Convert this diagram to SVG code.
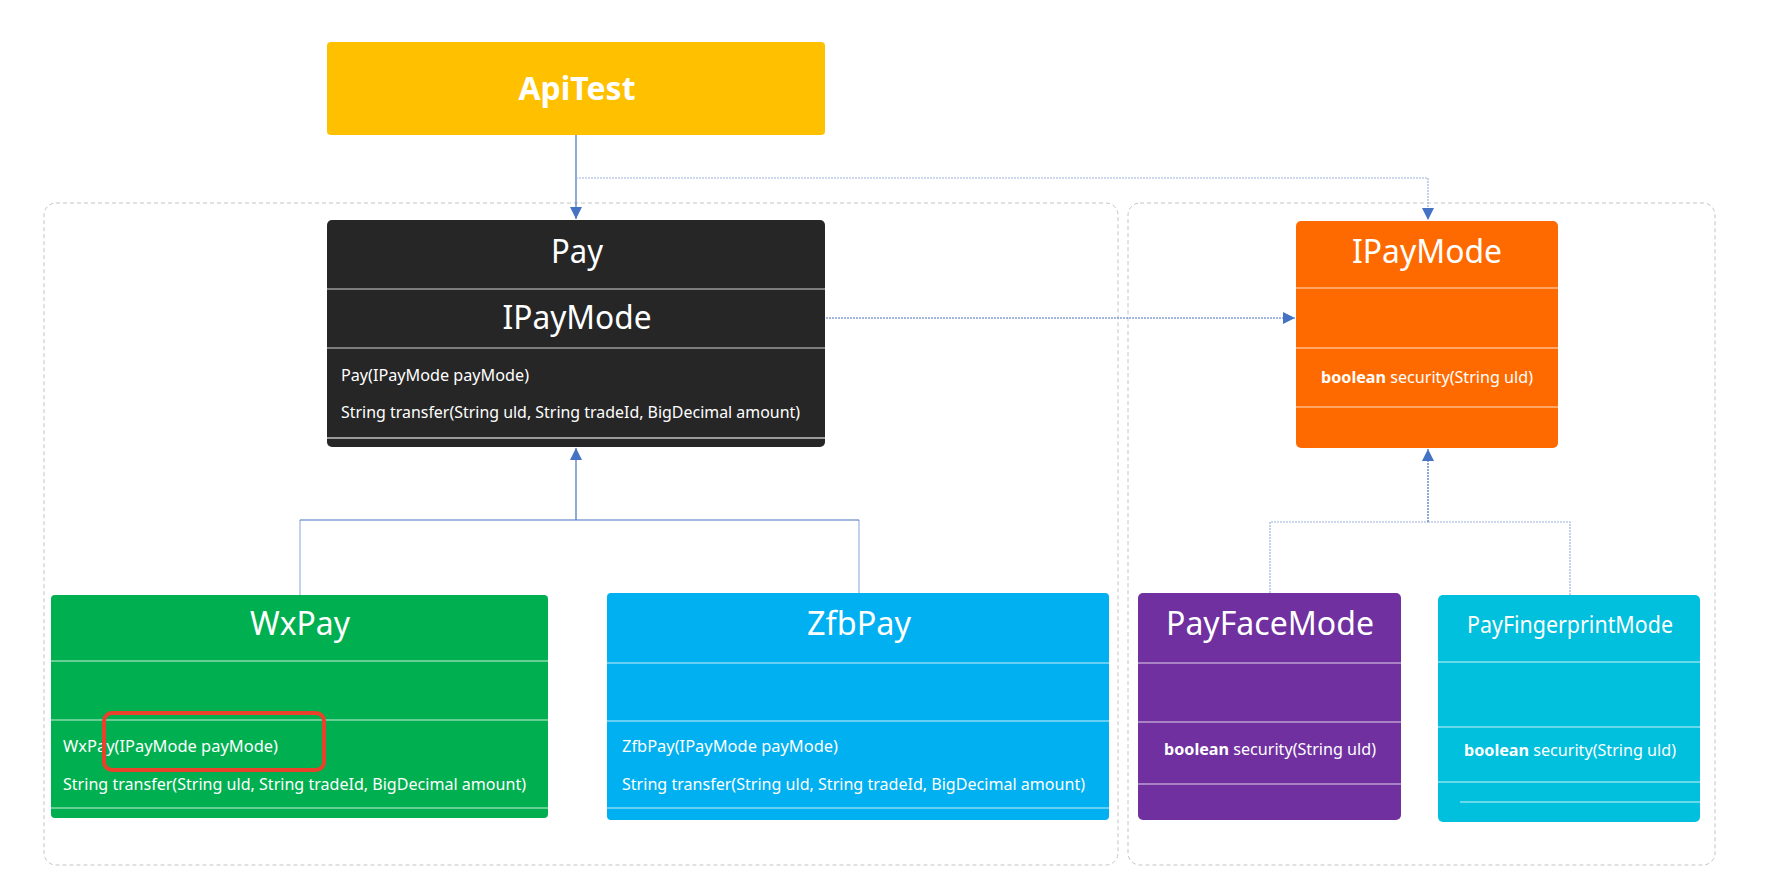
<svg xmlns="http://www.w3.org/2000/svg" width="1780" height="874" viewBox="0 0 1780 874">
<defs>
<marker id="arr" markerWidth="12" markerHeight="12" refX="10" refY="5" orient="auto" markerUnits="userSpaceOnUse" viewBox="0 0 10 10">
<path d="M0,0 L10,5 L0,10 z" fill="#4472C4"/>
</marker>
</defs>
<style>
.grp{fill:none;stroke:#c4c4c4;stroke-width:1;stroke-dasharray:4 3}
.t{font-family:"Noto Sans","Open Sans","Liberation Sans",sans-serif;fill:#fff}
.title{font-size:33px;text-anchor:middle}
.m{font-size:16px}
.mm{font-size:17px}
.sep{stroke:#fff;stroke-width:1.2;stroke-opacity:0.8}
.c{fill:none;stroke:#4472C4;stroke-width:1.2}
.cl{fill:none;stroke:#9bb2e0;stroke-width:1.2}
.dot{stroke-dasharray:2 1}
</style>
<rect width="1780" height="874" fill="#fff"/>
<rect class="grp" x="44" y="203" width="1074" height="662" rx="12"/>
<rect class="grp" x="1128" y="203" width="587" height="662" rx="12"/>

<g id="connectors">
<path class="c" d="M576,135 V219" marker-end="url(#arr)"/>
<path class="cl dot" d="M576,178 H1428 V220" marker-end="url(#arr)"/>
<path class="c dot" d="M826,318 H1295" marker-end="url(#arr)"/>
<path class="cl" d="M300,595 V520"/>
<path class="cl" d="M859,593 V520"/>
<path class="c" d="M300,520 H859"/>
<path class="c" d="M576,520 V448" marker-end="url(#arr)"/>
<path class="cl dot" d="M1270,593 V522 H1428"/>
<path class="cl dot" d="M1570,595 V522 H1428"/>
<path class="c dot" d="M1428,522 V449" marker-end="url(#arr)"/>
</g>

<g id="ApiTest">
<rect x="327" y="42" width="498" height="93" rx="4" fill="#FFC000"/>
<text class="t title" x="577" y="100" font-weight="bold" textLength="117" lengthAdjust="spacingAndGlyphs">ApiTest</text>
</g>

<g id="Pay">
<rect x="327" y="220" width="498" height="227" rx="5" fill="#262626"/>
<line class="sep" x1="327" y1="289" x2="825" y2="289"/>
<line class="sep" x1="327" y1="348" x2="825" y2="348"/>
<line x1="327" y1="438" x2="825" y2="438" stroke="#9a9a9a" stroke-width="2"/>
<text class="t title" x="577" y="263" textLength="52" lengthAdjust="spacingAndGlyphs">Pay</text>
<text class="t title" x="577" y="329" textLength="149" lengthAdjust="spacingAndGlyphs">IPayMode</text>
<text class="t mm" x="341" y="381" textLength="188" lengthAdjust="spacingAndGlyphs">Pay(IPayMode payMode)</text>
<text class="t mm" x="341" y="418" textLength="459" lengthAdjust="spacingAndGlyphs">String transfer(String uld, String tradeId, BigDecimal amount)</text>
</g>

<g id="IPayMode">
<rect x="1296" y="221" width="262" height="227" rx="5" fill="#FF6A00"/>
<line class="sep" x1="1296" y1="288" x2="1558" y2="288"/>
<line class="sep" x1="1296" y1="348" x2="1558" y2="348"/>
<line class="sep" x1="1296" y1="407" x2="1558" y2="407"/>
<text class="t title" x="1427" y="263" textLength="150" lengthAdjust="spacingAndGlyphs">IPayMode</text>
<text class="t m" x="1321" y="383" textLength="212" lengthAdjust="spacingAndGlyphs"><tspan font-weight="bold">boolean</tspan> security(String uld)</text>
</g>

<g id="WxPay">
<rect x="51" y="595" width="497" height="223" rx="4" fill="#00B050"/>
<line class="sep" x1="51" y1="661" x2="548" y2="661"/>
<line class="sep" x1="51" y1="720" x2="548" y2="720"/>
<line class="sep" x1="51" y1="808" x2="548" y2="808"/>
<text class="t title" x="300" y="635" textLength="100" lengthAdjust="spacingAndGlyphs">WxPay</text>
<text class="t mm" x="63" y="752" textLength="215" lengthAdjust="spacingAndGlyphs">WxPay(IPayMode payMode)</text>
<text class="t mm" x="63" y="790" textLength="463" lengthAdjust="spacingAndGlyphs">String transfer(String uld, String tradeId, BigDecimal amount)</text>
<rect x="104" y="713" width="220" height="57" rx="8" fill="none" stroke="#E8412C" stroke-width="4"/>
</g>

<g id="ZfbPay">
<rect x="607" y="593" width="502" height="227" rx="4" fill="#00B0F0"/>
<line class="sep" x1="607" y1="663" x2="1109" y2="663"/>
<line class="sep" x1="607" y1="721" x2="1109" y2="721"/>
<line class="sep" x1="607" y1="808" x2="1109" y2="808"/>
<text class="t title" x="859" y="635" textLength="104" lengthAdjust="spacingAndGlyphs">ZfbPay</text>
<text class="t mm" x="622" y="752" textLength="216" lengthAdjust="spacingAndGlyphs">ZfbPay(IPayMode payMode)</text>
<text class="t mm" x="622" y="790" textLength="463" lengthAdjust="spacingAndGlyphs">String transfer(String uld, String tradeId, BigDecimal amount)</text>
</g>

<g id="PayFaceMode">
<rect x="1138" y="593" width="263" height="227" rx="5" fill="#7030A0"/>
<line class="sep" x1="1138" y1="663" x2="1401" y2="663"/>
<line class="sep" x1="1138" y1="722" x2="1401" y2="722"/>
<line class="sep" x1="1138" y1="784" x2="1401" y2="784"/>
<text class="t title" x="1270" y="635" textLength="208" lengthAdjust="spacingAndGlyphs">PayFaceMode</text>
<text class="t m" x="1164" y="755" textLength="212" lengthAdjust="spacingAndGlyphs"><tspan font-weight="bold">boolean</tspan> security(String uld)</text>
</g>

<g id="PayFingerprintMode">
<rect x="1438" y="595" width="262" height="227" rx="5" fill="#00C0DE"/>
<line class="sep" x1="1438" y1="662" x2="1700" y2="662"/>
<line class="sep" x1="1438" y1="727" x2="1700" y2="727"/>
<line class="sep" x1="1438" y1="782" x2="1700" y2="782"/>
<line class="sep" x1="1460" y1="802" x2="1700" y2="802"/>
<text class="t" x="1570" y="633" font-size="23" text-anchor="middle" textLength="206" lengthAdjust="spacingAndGlyphs">PayFingerprintMode</text>
<text class="t m" x="1464" y="756" textLength="212" lengthAdjust="spacingAndGlyphs"><tspan font-weight="bold">boolean</tspan> security(String uld)</text>
</g>
</svg>
